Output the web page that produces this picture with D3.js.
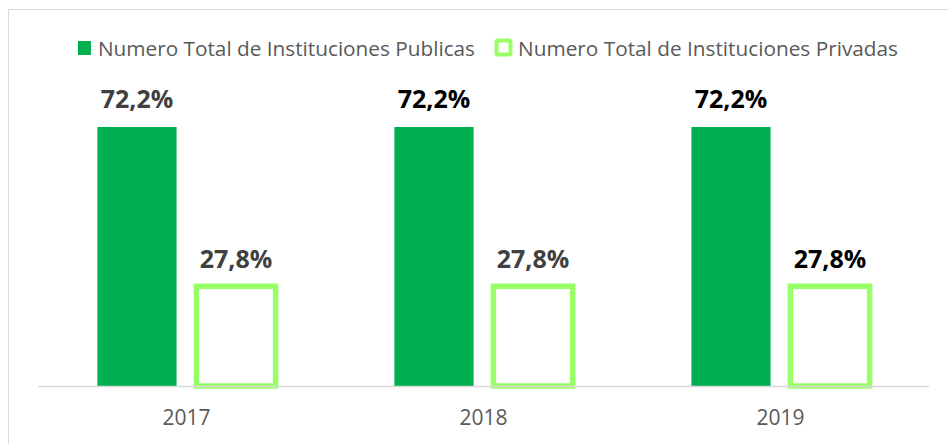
<!DOCTYPE html>
<html><head><meta charset="utf-8">
<script src="https://cdn.jsdelivr.net/npm/d3@7"></script>
<style>html,body{margin:0;padding:0;background:#fff;}svg{display:block;}</style>
</head><body>
<svg id="chart" width="948" height="444"></svg>
<script>
const years = ["2017", "2018", "2019"];
const seriesNames = ["Numero Total de Instituciones Publicas", "Numero Total de Instituciones Privadas"];
const publicas = [72.2, 72.2, 72.2];
const privadas = [27.8, 27.8, 27.8];
const labelText = v => d3.format(".1f")(v).replace(".", ",") + "%";

const svg = d3.select("#chart");
const font = "'Open Sans', 'DejaVu Sans', sans-serif";
const darkGreen = "#00B050", lightGreen = "#99FF66";

// outer border (extends beyond the picture on right/bottom)
svg.append("rect").attr("x", 8.5).attr("y", 9.5).attr("width", 960).attr("height", 460)
  .attr("fill", "none").attr("stroke", "#d9d9d9").attr("stroke-width", 1);

const x0 = d3.scaleBand().domain(years).range([38, 929]);
const x1 = d3.scaleBand().domain([0, 1]).range([0, x0.bandwidth()]).paddingInner(0.2).paddingOuter(0.6);
const y = d3.scaleLinear().domain([0, 80]).range([386, 99]);

const data = years.map((yr, i) => ({ yr, vals: [publicas[i], privadas[i]] }));
// label colours: some labels in the original are black, others dark gray
const labelColors = [["#404040", "#404040"], ["#000000", "#404040"], ["#000000", "#000000"]];

const g = svg.append("g");
data.forEach(d => {
  const v = d.vals[0];
  g.append("rect").attr("x", x0(d.yr) + x1(0)).attr("y", y(v)).attr("width", x1.bandwidth())
    .attr("height", y(0) - y(v)).attr("fill", darkGreen);
});

// axis line
svg.append("line").attr("x1", 38).attr("x2", 929).attr("y1", 386.5).attr("y2", 386.5)
  .attr("stroke", "#d9d9d9").attr("stroke-width", 1.5);

data.forEach((d, i) => {
  d.vals.forEach((v, s) => {
    const bx = x0(d.yr) + x1(s);
    const bw = x1.bandwidth();
    if (s === 1) {
      g.append("rect").attr("x", bx).attr("y", y(v)).attr("width", bw).attr("height", y(0) - y(v))
        .attr("fill", "#fff").attr("stroke", lightGreen).attr("stroke-width", 5.5);
    }
    svg.append("text").attr("x", bx + bw / 2).attr("y", y(v) - (s === 1 ? 18 : 19))
      .attr("text-anchor", "middle").attr("font-family", font).attr("font-weight", "bold")
      .attr("font-size", 25).attr("fill", labelColors[i][s]).text(labelText(v));
  });
});

// x axis labels
const xAxis = d3.axisBottom(x0).tickSize(0).tickPadding(0);
const ax = svg.append("g").attr("transform", "translate(0,386)").call(xAxis);
ax.select(".domain").remove();
ax.selectAll("text").attr("y", 39).attr("dy", 0).attr("font-family", font).attr("font-size", 21)
  .attr("fill", "#595959");

// legend
const leg = svg.append("g");
leg.append("rect").attr("x", 78).attr("y", 41).attr("width", 13).attr("height", 14).attr("fill", darkGreen);
leg.append("text").attr("x", 98).attr("y", 55.5).attr("font-family", font).attr("font-size", 19.5)
  .attr("fill", "#595959").attr("textLength", 377).attr("lengthAdjust", "spacingAndGlyphs").text(seriesNames[0]);
leg.append("rect").attr("x", 496.5).attr("y", 40.5).attr("width", 14).attr("height", 14)
  .attr("fill", "#fff").attr("stroke", lightGreen).attr("stroke-width", 4).attr("rx", 1.5);
leg.append("text").attr("x", 518).attr("y", 55.5).attr("font-family", font).attr("font-size", 19.5)
  .attr("fill", "#595959").attr("textLength", 380).attr("lengthAdjust", "spacingAndGlyphs").text(seriesNames[1]);
</script>
</body></html>
